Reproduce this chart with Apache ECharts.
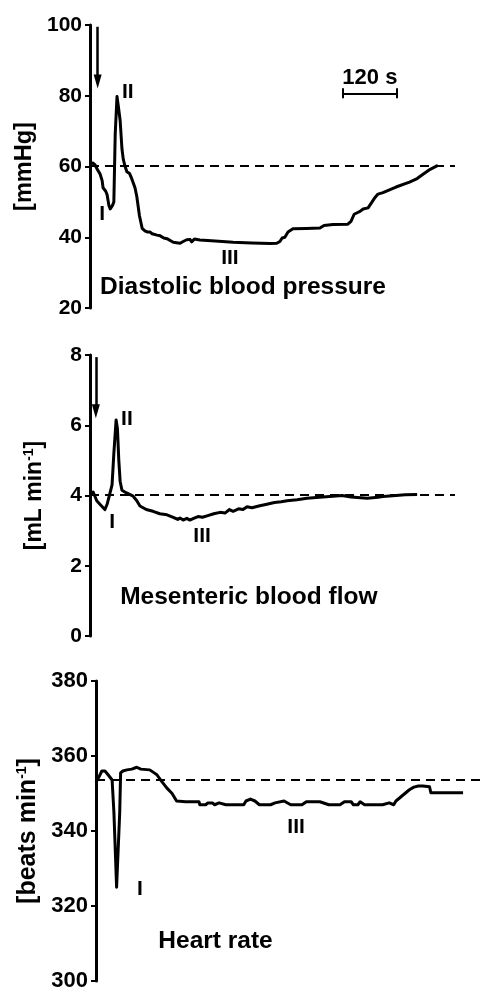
<!DOCTYPE html>
<html>
<head>
<meta charset="utf-8">
<script src="https://cdn.jsdelivr.net/npm/echarts@6/dist/echarts.min.js"></script>
<style>
  html, body { margin: 0; padding: 0; background: #fff; }
  #main { width: 481px; height: 992px; }
</style>
</head>
<body>
<div id="main"></div>
<script>
// time in seconds after injection
var dbpTime  = [0, 6, 11, 17, 22, 27, 29, 35, 38, 42, 45, 50, 53, 56, 60, 63, 67, 71, 74, 78, 82, 88, 93, 100, 104, 110, 116, 122, 127, 133, 138, 142, 149, 156, 164, 171, 185, 200, 207, 215, 222, 226, 232, 244, 270, 318, 360, 400, 415, 422, 427, 433, 440, 451, 480, 511, 520, 540, 573, 580, 587, 595, 600, 607, 618, 622, 632, 640, 651, 680, 710, 727, 740, 756, 773];
var dbpValue = [61, 61, 60.5, 59, 58, 56, 54, 53, 52, 49, 48, 49, 50, 69, 79.8, 77, 73, 65, 62, 60, 58.5, 58, 56.5, 54, 51.5, 46, 42.5, 41.8, 41.5, 41.5, 41, 41.2, 40.6, 40.4, 39.8, 39.6, 38.6, 38.3, 38.8, 39.3, 39.4, 38.7, 39.5, 39.2, 39, 38.6, 38.4, 38.2, 38.3, 38.8, 39.8, 40, 41.5, 42.4, 42.5, 42.6, 43.3, 43.6, 43.7, 44.5, 46.5, 47, 47.3, 48, 48.3, 48.8, 51, 52.2, 52.6, 54.2, 55.6, 56.6, 57.8, 59.2, 60.3];
var dbpBase = 60.2;

var mbfTime  = [0, 7, 11, 15, 22, 33, 38, 42, 49, 53, 58, 61, 64, 67, 71, 80, 96, 104, 111, 125, 140, 155, 171, 185, 195, 200, 207, 215, 222, 229, 240, 250, 260, 275, 289, 300, 310, 318, 330, 340, 349, 360, 375, 393, 410, 425, 438, 460, 482, 510, 540, 560, 580, 616, 640, 651, 680, 700, 727];
var mbfValue = [4.05, 4.1, 4.08, 3.85, 3.75, 3.6, 3.75, 3.95, 4.3, 5.2, 6.15, 5.9, 5.0, 4.4, 4.15, 4.08, 3.98, 3.85, 3.7, 3.6, 3.55, 3.48, 3.45, 3.38, 3.32, 3.36, 3.3, 3.35, 3.3, 3.34, 3.4, 3.38, 3.42, 3.48, 3.52, 3.5, 3.6, 3.55, 3.62, 3.6, 3.68, 3.65, 3.7, 3.75, 3.8, 3.82, 3.85, 3.88, 3.92, 3.95, 3.98, 4.0, 3.96, 3.92, 3.95, 3.97, 4.0, 4.02, 4.03];
var mbfBase = 4.03;

var hrTime  = [0, 7, 13, 20, 27, 36, 40, 46, 50, 53, 55, 60, 69, 80, 91, 100, 120, 130, 136, 145, 158, 170, 180, 200, 230, 232, 245, 250, 260, 265, 275, 290, 330, 335, 345, 355, 365, 390, 400, 420, 435, 460, 470, 500, 520, 545, 555, 570, 575, 585, 590, 600, 640, 655, 665, 670, 680, 690, 700, 710, 720, 730, 745, 748, 820];
var hrValue = [353, 354.5, 356, 356, 355, 353.6, 345, 325, 325, 345, 355.5, 356, 356.3, 356.5, 357, 356.5, 356.3, 355.5, 355, 353.5, 351.5, 350, 348, 347.8, 347.8, 347, 347, 347.5, 347.5, 347, 347.5, 347, 347, 348, 348.5, 348, 347, 347, 347.5, 348, 347, 347, 347.8, 347.8, 347, 347, 347.8, 347.8, 347, 347, 347.8, 347, 347, 347.5, 347, 348, 349, 350, 351, 351.7, 352, 352, 351.8, 350.2, 350.2];
var hrBase = 353.8;

// axis ticks
var dbpTicks = [20, 100, 20];
var mbfTicks = [0, 8, 2];
var hrTicks  = [300, 380, 20];

var FONT = 'Liberation Sans';

function zip(a, b) {
  var out = [];
  for (var i = 0; i < a.length; i++) out.push([a[i], b[i]]);
  return out;
}

function yAx(idx, ticks, name, gap, labelSize, nameSize) {
  return {
    gridIndex: idx, type: 'value', min: ticks[0], max: ticks[1], interval: ticks[2],
    splitLine: { show: false },
    axisLine: { show: true, lineStyle: { color: '#000', width: 3 } },
    axisTick: { show: true, length: 5, lineStyle: { color: '#000', width: 2 } },
    axisLabel: { color: '#000', fontFamily: FONT, fontWeight: 'bold', fontSize: labelSize, margin: 8 },
    name: name, nameLocation: 'middle', nameRotate: 90, nameGap: gap,
    nameTextStyle: {
      color: '#000', fontFamily: FONT, fontWeight: 'bold', fontSize: nameSize,
      rich: { sup: { fontFamily: FONT, fontWeight: 'bold', fontSize: 14, color: '#000', verticalAlign: 'top', lineHeight: 26, padding: [0, 0, 11, 0] } }
    }
  };
}

function txt(coord, s, size) {
  return {
    coord: coord, symbol: 'circle', symbolSize: 0, value: s,
    label: { show: true, position: 'inside', formatter: s, color: '#000', fontFamily: FONT, fontWeight: 'bold', fontSize: size || 21 }
  };
}

function dashed(end, base) {
  return [{ coord: [0, base], symbol: 'none' },
          { coord: [end, base], symbol: 'none', lineStyle: { type: [9, 6], width: 2, color: '#000' } }];
}

function arrow(x, y0, y1) {
  return [{ coord: [x, y0], symbol: 'none' },
          { coord: [x, y1], symbol: 'triangle', symbolSize: [8, 14], lineStyle: { type: 'solid', width: 2.5, color: '#000' } }];
}

function seg(x0, y0, x1, y1) {
  return [{ coord: [x0, y0], symbol: 'none' },
          { coord: [x1, y1], symbol: 'none', lineStyle: { type: 'solid', width: 2, color: '#000' } }];
}

function trace(idx, data, marks, points) {
  return {
    type: 'line', xAxisIndex: idx, yAxisIndex: idx, data: data,
    showSymbol: false, clip: false, silent: true, animation: false,
    lineStyle: { color: '#000', width: 3, join: 'round' },
    markLine: { silent: true, animation: false, symbol: 'none', label: { show: false }, data: marks },
    markPoint: { silent: true, animation: false, data: points }
  };
}

var myChart = echarts.init(document.getElementById('main'));

var option = {
  backgroundColor: '#fff',
  animation: false,
  grid: [
    { left: 90, top: 25, width: 387, height: 283 },
    { left: 90, top: 355, width: 387, height: 281 },
    { left: 96, top: 681, width: 387, height: 301 }
  ],
  xAxis: [0, 1, 2].map(function (i) {
    return { gridIndex: i, type: 'value', min: 0, max: 860, show: false };
  }),
  yAxis: [
    yAx(0, dbpTicks, '[mmHg]', 51, 21, 23.5),
    yAx(1, mbfTicks, '[mL min{sup|-1}]', 42, 21, 23),
    yAx(2, hrTicks, '[beats min{sup|-1}]', 50, 22, 25)
  ],
  series: [
    trace(0, zip(dbpTime, dbpValue),
      [dashed(811, dbpBase), arrow(17, 99.5, 84),
       seg(562, 80.7, 682, 80.7), seg(562, 79.3, 562, 82.1), seg(682, 79.3, 682, 82.1)],
      [txt([27, 46.4], 'I'), txt([84, 80.9], 'II'), txt([311, 34], 'III'),
       txt([622, 84.9], '120 s', 22), txt([340, 25.8], 'Diastolic blood pressure', 24.5)]),
    trace(1, zip(mbfTime, mbfValue),
      [dashed(811, mbfBase), arrow(13, 7.94, 6.4)],
      [txt([49, 3.23], 'I'), txt([82, 6.17], 'II'), txt([249, 2.83], 'III'),
       txt([353, 1.11], 'Mesenteric blood flow', 24.5)]),
    trace(2, zip(hrTime, hrValue),
      [dashed(860, hrBase), arrow(18, 381.5, 366)],
      [txt([98, 324.5], 'I'), txt([447, 340.9], 'III'), txt([267, 310.7], 'Heart rate', 24.5)])
  ]
};

myChart.setOption(option);
</script>
</body>
</html>
